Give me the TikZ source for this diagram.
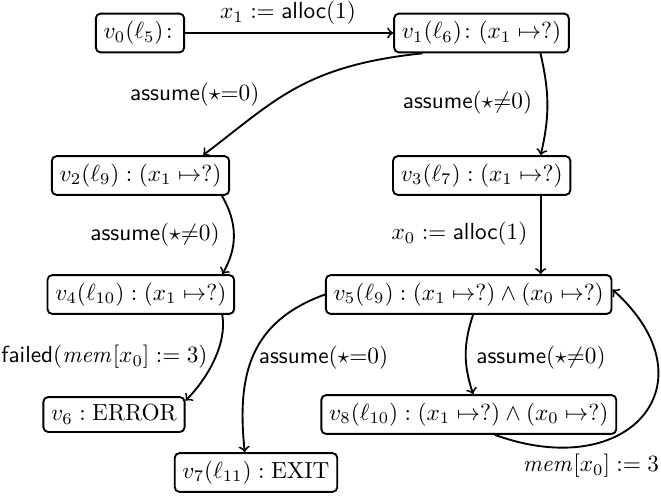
\documentclass[tikz,border=0pt]{standalone}
\usepackage{amsmath}
\begin{document}
\begin{tikzpicture}[x=0.43pt, y=-0.43pt,
  state/.style={draw, rounded corners=2pt, line width=0.8pt, inner sep=3.33pt, fill=white},
  lbl/.style={inner sep=1pt},
  edge/.style={->, line width=0.8pt}]
\useasboundingbox (0,0) rectangle (661,496);
% nodes
\node[state] (v0) at (140,33)    {$v_0(\ell_5)\colon\!$};
\node[state] (v1) at (481.5,33)  {$v_1(\ell_6)\colon (x_1 \mapsto ?)$};
\node[state] (v2) at (140.5,175.5) {$v_2(\ell_9) : (x_1 \mapsto ?)$};
\node[state] (v3) at (481.7,175.5) {$v_3(\ell_7) : (x_1 \mapsto ?)$};
\node[state] (v4) at (140.8,294.5) {$v_4(\ell_{10}) : (x_1 \mapsto ?)$};
\node[state] (v5) at (468.7,294.5) {$v_5(\ell_9) : (x_1 \mapsto ?) \wedge (x_0 \mapsto ?)$};
\node[state] (v6) at (114,414.5)  {$v_6 : \mathrm{ERROR}$};
\node[state] (v8) at (468.8,414.5) {$v_8(\ell_{10}) : (x_1 \mapsto ?) \wedge (x_0 \mapsto ?)$};
\node[state] (v7) at (256,472.5)  {$v_7(\ell_{11}) : \mathrm{EXIT}$};
% labels
\node[lbl] (l01) at (288,13)   {$x_1 := \textsf{alloc}(1)$};
\node[lbl] (l12) at (194.7,95) {\textsf{assume}$(\star\mathord{=}0)$};
\node[lbl] (l13) at (467.5,103) {\textsf{assume}$(\star\mathord{\neq}0)$};
\node[lbl] (l24) at (155,235)  {\textsf{assume}$(\star\mathord{\neq}0)$};
\node[lbl] (l35) at (459.5,234) {$x_0 := \textsf{alloc}(1)$};
\node[lbl] (l46) at (104.5,357)  {\textsf{failed}$(\mathit{mem}[x_0] := 3)$};
\node[lbl] (l57) at (323.5,358) {\textsf{assume}$(\star\mathord{=}0)$};
\node[lbl] (l58) at (541,358)  {\textsf{assume}$(\star\mathord{\neq}0)$};
\node[lbl] (l85) at (591,466)  {$\mathit{mem}[x_0] := 3$};
% edges
\draw[edge] (v0.east) -- (v1.west);
\draw[edge] (v1.199.5) .. controls +(186:51.6pt) and +(37:38.7pt) .. (v2.18.7);
\draw[edge] (v1.-19.4) .. controls +(283:17.3pt) and +(77:17.3pt) .. (v3.19);
\draw[edge] (v2.-14.1) .. controls +(300:13.4pt) and +(60:13.4pt) .. (v4.14.1);
\draw[edge] (v3.-19.2) -- (v3.-19.2 |- v5.north);
\draw[edge] (v4.-14.1) .. controls +(-80:12.9pt) and +(45:12.9pt) .. (v6.11.3);
\draw[edge] (v5.west) .. controls +(200:34pt) and +(96:34pt) .. (v7.119.4);
\draw[edge] (v5.-78.4) .. controls +(252:13.6pt) and +(108:13.6pt) .. (v8.78.7);
\draw[edge] (v8.-38.5) .. controls +(-20:62pt) and +(-42:59.5pt) .. (v5.2);
\end{tikzpicture}
\end{document}
